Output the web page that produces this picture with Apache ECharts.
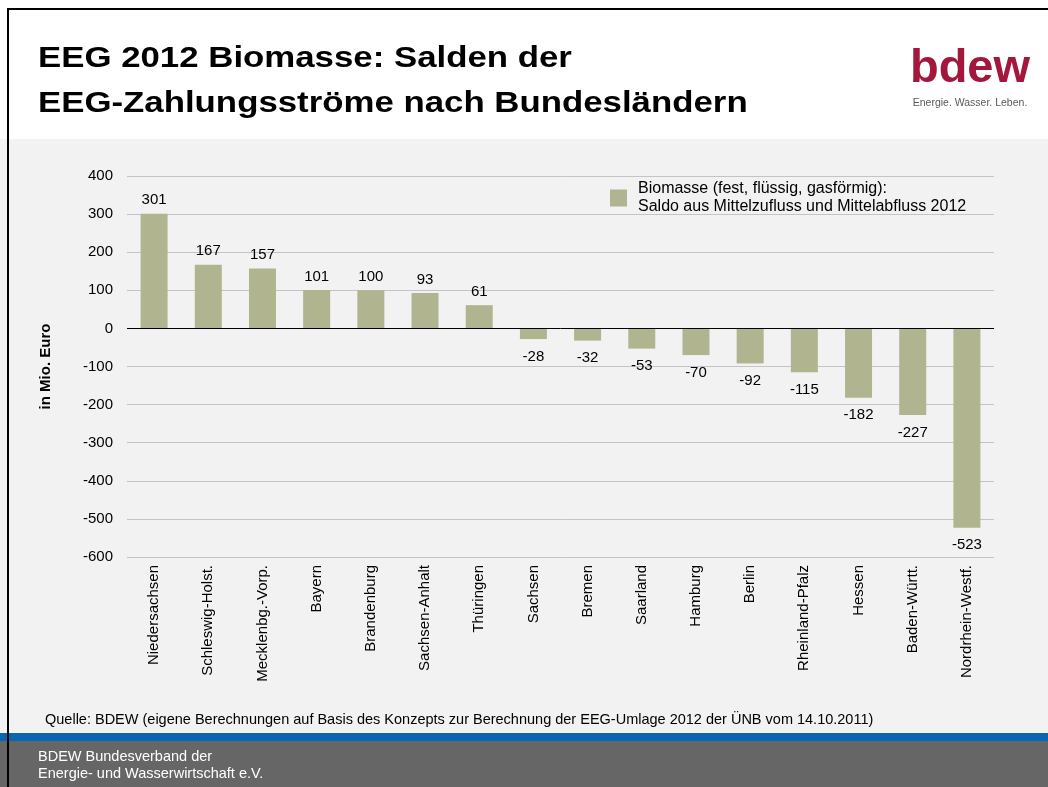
<!DOCTYPE html>
<html>
<head>
<meta charset="utf-8">
<script src="https://cdn.jsdelivr.net/npm/echarts@6/dist/echarts.min.js"></script>
<style>
  html, body { margin: 0; padding: 0; background: #f2f2f2; }
  #main { width: 1048px; height: 787px; }
</style>
</head>
<body>
<div id="main"></div>
<script>
// Daten (Mio. Euro)
var laender = ['Niedersachsen', 'Schleswig-Holst.', 'Mecklenbg.-Vorp.', 'Bayern', 'Brandenburg',
    'Sachsen-Anhalt', 'Thüringen', 'Sachsen', 'Bremen', 'Saarland', 'Hamburg', 'Berlin',
    'Rheinland-Pfalz', 'Hessen', 'Baden-Württ.', 'Nordrhein-Westf.'];
var salden = [301, 167, 157, 101, 100, 93, 61, -28, -32, -53, -70, -92, -115, -182, -227, -523];
var serienName = 'Biomasse (fest, flüssig, gasförmig):\nSaldo aus Mittelzufluss und Mittelabfluss 2012';

var font = 'Liberation Sans, Arial, sans-serif';
var myChart = echarts.init(document.getElementById('main'));

myChart.setOption({
    backgroundColor: '#f2f2f2',
    animation: false,
    textStyle: { fontFamily: font },
    graphic: [
        // Kopfbereich
        { type: 'rect', shape: { x: 0, y: 0, width: 1048, height: 139 }, style: { fill: '#ffffff' }, silent: true },
        { type: 'rect', shape: { x: 7, y: 8, width: 1041, height: 2 }, style: { fill: '#000' }, silent: true },
        { type: 'text', x: 38, y: 59, scaleX: 1.2, style: { text: 'EEG 2012 Biomasse: Salden der', font: 'bold 29px ' + font, fill: '#000', verticalAlign: 'middle' } },
        { type: 'text', x: 38, y: 104, scaleX: 1.2, style: { text: 'EEG-Zahlungsströme nach Bundesländern', font: 'bold 29px ' + font, fill: '#000', verticalAlign: 'middle' } },
        // Logo
        { type: 'text', x: 970, y: 69, style: { text: 'bdew', font: 'bold 47px ' + font, fill: '#a3173c', align: 'center', verticalAlign: 'middle' } },
        { type: 'text', x: 970, y: 103, style: { text: 'Energie. Wasser. Leben.', font: '10.5px ' + font, fill: '#595959', align: 'center', verticalAlign: 'middle' } },
        // Quelle
        { type: 'text', x: 45, y: 720, style: { text: 'Quelle: BDEW (eigene Berechnungen auf Basis des Konzepts zur Berechnung der EEG-Umlage 2012 der ÜNB vom 14.10.2011)', font: '14.5px ' + font, fill: '#000', verticalAlign: 'middle' } },
        // Fußzeile
        { type: 'rect', shape: { x: 0, y: 733, width: 1048, height: 8 }, style: { fill: '#0a66b1' }, silent: true },
        { type: 'rect', shape: { x: 0, y: 741, width: 1048, height: 46 }, style: { fill: '#666666' }, silent: true },
        { type: 'text', x: 38, y: 757, style: { text: 'BDEW Bundesverband der', font: '14.5px ' + font, fill: '#fff', verticalAlign: 'middle' } },
        { type: 'text', x: 38, y: 774, style: { text: 'Energie- und Wasserwirtschaft e.V.', font: '14.5px ' + font, fill: '#fff', verticalAlign: 'middle' } },
        { type: 'rect', shape: { x: 7, y: 8, width: 2, height: 779 }, style: { fill: '#000' }, silent: true }
    ],
    legend: {
        left: 610,
        top: 180,
        padding: 0,
        itemWidth: 17,
        itemHeight: 17,
        icon: 'rect',
        textStyle: { fontSize: 16, color: '#000', lineHeight: 18, padding: [0, 0, 0, 6] },
        data: [serienName]
    },
    grid: { left: 127, right: 54, top: 176, bottom: 230, containLabel: false },
    xAxis: {
        type: 'category',
        data: laender,
        axisLine: { show: false, onZero: false },
        axisTick: { show: false },
        axisLabel: { rotate: 90, fontSize: 15, color: '#000', margin: 8, interval: 0 }
    },
    yAxis: {
        type: 'value',
        min: -600,
        max: 400,
        interval: 100,
        name: 'in Mio. Euro',
        nameLocation: 'middle',
        nameGap: 74,
        nameTextStyle: { fontSize: 15, fontWeight: 'bold', color: '#000' },
        axisLine: { show: false },
        axisTick: { show: false },
        axisLabel: { fontSize: 15, color: '#000', margin: 14 },
        splitLine: { lineStyle: { color: '#c4c4c4', width: 1 } }
    },
    series: [{
        name: serienName,
        type: 'bar',
        barWidth: 27,
        itemStyle: { color: '#b0b58f' },
        data: salden.map(function (v) {
            return { value: v, label: v < 0 ? { position: 'bottom', distance: 10 } : { position: 'top', distance: 6 } };
        }),
        label: { show: true, fontSize: 15, color: '#000' },
        markLine: {
            silent: true,
            symbol: 'none',
            label: { show: false },
            lineStyle: { color: '#000', width: 1, type: 'solid' },
            data: [{ yAxis: 0 }]
        }
    }]
});
</script>
</body>
</html>
